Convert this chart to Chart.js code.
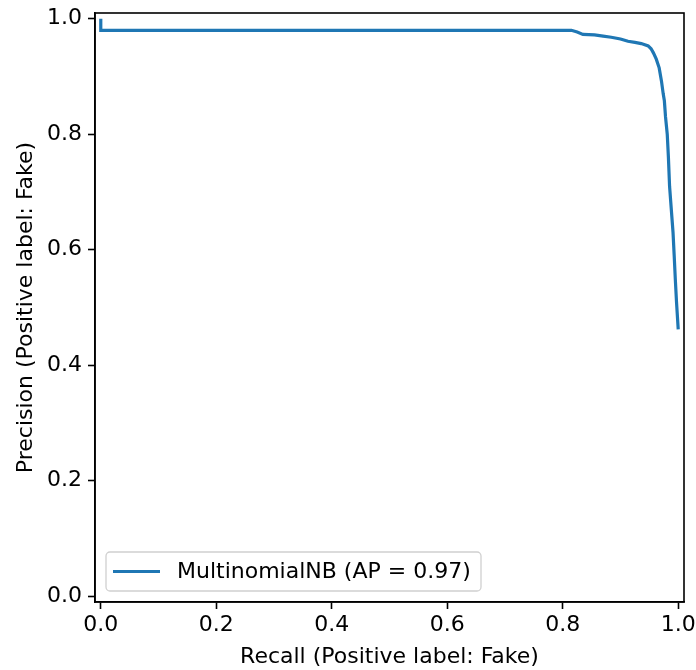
<!DOCTYPE html>
<html lang="en">
<head>
    <meta charset="UTF-8">
    <title>Precision-Recall Curve</title>
    <script src="https://cdn.jsdelivr.net/npm/chart.js"></script>
    <style>
        body { margin: 0; padding: 0; background: #fff; }
        #wrap { width: 696px; height: 670px; position: relative; }
    </style>
</head>
<body>

<div id="wrap">
    <canvas id="prChart" width="696" height="670"></canvas>
</div>

<script>
    // values
    const recall = [0.0, 0.0, 0.815, 0.825, 0.835, 0.855, 0.87, 0.884, 0.9, 0.913, 0.925, 0.936, 0.948, 0.953,
        0.957, 0.962, 0.967, 0.971, 0.974, 0.976, 0.978, 0.981, 0.983, 0.985, 0.988, 0.991, 0.993, 0.995, 0.997, 1.0];
    const precision = [1.0, 0.98, 0.98, 0.977, 0.973, 0.972, 0.970, 0.968, 0.965, 0.961, 0.959, 0.957, 0.953, 0.948,
        0.941, 0.93, 0.915, 0.892, 0.87, 0.858, 0.83, 0.80, 0.76, 0.71, 0.67, 0.63, 0.59, 0.548, 0.51, 0.462];
    const xTicks = [0.0, 0.2, 0.4, 0.6, 0.8, 1.0];
    const yTicks = [0.0, 0.2, 0.4, 0.6, 0.8, 1.0];
    const seriesLabel = 'MultinomialNB (AP = 0.97)';
    const xTitle = 'Recall (Positive label: Fake)';
    const yTitle = 'Precision (Positive label: Fake)';

    const FONT = 'DejaVu Sans';
    const FSIZE = 22;
    const BLUE = '#1f77b4';

    const points = recall.map((r, i) => ({ x: r, y: precision[i] }));

    // box around the plot area (matplotlib spines)
    const framePlugin = {
        id: 'frame',
        afterDraw(chart) {
            const { ctx, chartArea: a } = chart;
            ctx.save();
            ctx.strokeStyle = '#000';
            ctx.lineWidth = 1.6;
            ctx.strokeRect(a.left, a.top, a.right - a.left, a.bottom - a.top);
            ctx.restore();
        }
    };

    // legend drawn inside the lower left corner, like matplotlib's
    const insideLegend = {
        id: 'insideLegend',
        afterDraw(chart) {
            const { ctx, chartArea: a } = chart;
            const ds = chart.data.datasets[0];
            const x = a.left + 11, y = a.bottom - 50, w = 375, h = 39, r = 4;
            ctx.save();
            ctx.beginPath();
            ctx.roundRect(x, y, w, h, r);
            ctx.fillStyle = 'rgba(255,255,255,0.8)';
            ctx.fill();
            ctx.strokeStyle = '#d0d0d0';
            ctx.lineWidth = 1.3;
            ctx.stroke();
            ctx.beginPath();
            ctx.moveTo(x + 7, y + h / 2);
            ctx.lineTo(x + 54, y + h / 2);
            ctx.strokeStyle = ds.borderColor;
            ctx.lineWidth = ds.borderWidth;
            ctx.stroke();
            ctx.fillStyle = '#000';
            ctx.font = FSIZE + 'px "' + FONT + '"';
            ctx.textBaseline = 'middle';
            ctx.fillText(ds.label, x + 71, y + h / 2 + 1);
            ctx.restore();
        }
    };

    const tickFont = { family: FONT, size: FSIZE };

    const ctx = document.getElementById('prChart').getContext('2d');
    const prChart = new Chart(ctx, {
        type: 'scatter',
        data: {
            datasets: [{
                label: seriesLabel,
                data: points,
                showLine: true,
                borderColor: BLUE,
                borderWidth: 3.2,
                pointRadius: 0,
                tension: 0,
                fill: false
            }]
        },
        options: {
            responsive: false,
            animation: false,
            layout: { padding: { top: 13, right: 12, left: 0, bottom: 0 } },
            plugins: {
                legend: { display: false },
                tooltip: { enabled: false }
            },
            scales: {
                x: {
                    type: 'linear',
                    min: -0.01,
                    max: 1.01,
                    afterBuildTicks: (s) => { s.ticks = xTicks.map(v => ({ value: v })); },
                    afterFit: (s) => { s.height = 68; s.paddingLeft = 0; s.paddingRight = 0; },
                    ticks: {
                        color: '#000',
                        font: tickFont,
                        padding: 3,
                        maxRotation: 0,
                        callback: (v) => Number(v).toFixed(1)
                    },
                    grid: { drawOnChartArea: false, tickLength: 7, tickColor: '#000', tickWidth: 1.6 },
                    border: { display: true, color: '#000', width: 1.6 },
                    title: { display: true, text: xTitle, color: '#000', font: tickFont, padding: { top: 0, bottom: 0 } }
                },
                y: {
                    type: 'linear',
                    min: -0.01,
                    max: 1.01,
                    afterBuildTicks: (s) => { s.ticks = yTicks.map(v => ({ value: v })); },
                    afterFit: (s) => { s.width = 95; s.paddingTop = 0; s.paddingBottom = 0; },
                    ticks: {
                        color: '#000',
                        font: tickFont,
                        padding: 6,
                        callback: (v) => Number(v).toFixed(1)
                    },
                    grid: { drawOnChartArea: false, tickLength: 7, tickColor: '#000', tickWidth: 1.6 },
                    border: { display: true, color: '#000', width: 1.6 },
                    title: { display: true, text: yTitle, color: '#000', font: tickFont, padding: { top: 13, bottom: 0 } }
                }
            }
        },
        plugins: [framePlugin, insideLegend]
    });
</script>

</body>
</html>
